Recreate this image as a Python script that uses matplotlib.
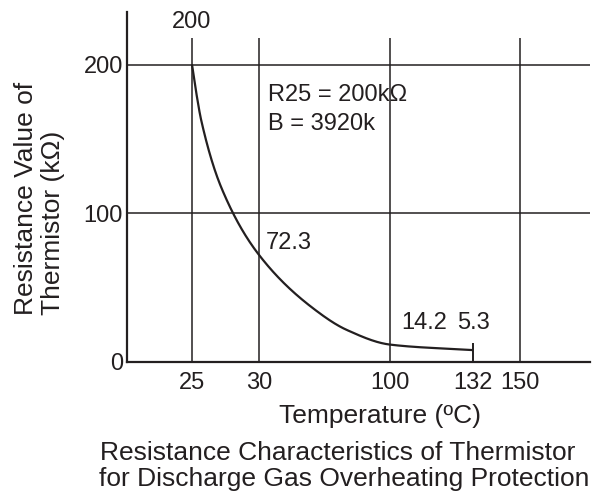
import numpy as np
import matplotlib
matplotlib.use("Agg")
import matplotlib.pyplot as plt

plt.rcParams['font.family'] = ['Liberation Sans', 'DejaVu Sans']

# ---- data ----
tick_temps = [25, 30, 100, 132, 150]
tick_labels = ['25', '30', '100', '132', '150']
y_ticks = [0, 100, 200]
curve_temp = [25, 25.3, 25.7, 27.2, 30, 59, 77, 100, 132]
curve_res = [200, 182, 162, 117, 72, 36, 21.5, 11.7, 8.0]
labels_text = ['200', '72.3', '14.2', '5.3']
r25_text = ['R25 = 200k\u03a9', 'B = 3920k']
xlabel = 'Temperature (\u00baC)'
ylabel = ['Resistance Value of', 'Thermistor (k\u03a9)']
title = ['Resistance Characteristics of Thermistor', 'for Discharge Gas Overheating Protection']

# non-linear axis knots (temperature -> axis position)
knot_T = [20, 25, 30, 100, 132, 150, 180]
knot_u = [125, 192, 259, 390, 473, 520, 598]


def fwd(t):
    return np.interp(t, knot_T, knot_u)


def inv(u):
    return np.interp(u, knot_u, knot_T)


def pchip(x, y, xn):
    x = np.asarray(x, float); y = np.asarray(y, float)
    h = np.diff(x); d = np.diff(y) / h
    m = np.zeros_like(y)
    for k in range(1, len(x) - 1):
        if d[k - 1] * d[k] > 0:
            w1 = 2 * h[k] + h[k - 1]; w2 = h[k] + 2 * h[k - 1]
            m[k] = (w1 + w2) / (w1 / d[k - 1] + w2 / d[k])
    m[0] = d[0]; m[-1] = d[-1]
    idx = np.clip(np.searchsorted(x, xn) - 1, 0, len(h) - 1)
    t = (xn - x[idx]) / h[idx]
    h00 = 2 * t**3 - 3 * t**2 + 1; h10 = t**3 - 2 * t**2 + t
    h01 = -2 * t**3 + 3 * t**2; h11 = t**3 - t**2
    return h00 * y[idx] + h10 * h[idx] * m[idx] + h01 * y[idx + 1] + h11 * h[idx] * m[idx + 1]


W, H = 603, 492
fig = plt.figure(figsize=(W / 100, H / 100), dpi=100)
ax_l, ax_r, ax_b, ax_t = 127, 590, 362, 12
ax = fig.add_axes([ax_l / W, 1 - ax_b / H, (ax_r - ax_l) / W, (ax_b - ax_t) / H])
ax.set_xscale('function', functions=(fwd, inv))
ax.set_xlim(inv(ax_l), inv(ax_r))
ymax = 200 * (ax_b - ax_t) / (ax_b - 64.5)
ax.set_ylim(0, ymax)

lc = '#231f20'
for s in ['top', 'right']:
    ax.spines[s].set_visible(False)
for s in ['left', 'bottom']:
    ax.spines[s].set_linewidth(1.6)
    ax.spines[s].set_color(lc)

vtop = 200 * (ax_b - 38) / (ax_b - 64.5)
for t in [25, 30, 100, 150]:
    ax.vlines(t, 0, vtop, color=lc, lw=1.1)
for v in [100, 200]:
    ax.axhline(v, color=lc, lw=1.1)

# curve, smoothed in axis-position space
u_pts = fwd(np.array(curve_temp))
u_fine = np.linspace(u_pts[0], u_pts[-1], 600)
r_fine = pchip(u_pts, curve_res, u_fine)
ax.plot(inv(u_fine), r_fine, color=lc, lw=1.6, solid_capstyle='butt')
ax.vlines(curve_temp[-1], 0, 12.8, color=lc, lw=1.4)

fs = 17
ax.set_xticks(tick_temps)
ax.set_xticklabels(tick_labels)
ax.set_yticks(y_ticks)
ax.tick_params(axis='both', length=0, labelsize=fs, colors=lc)
ax.tick_params(axis='x', pad=7)
ax.tick_params(axis='y', pad=3)


def ypx(p):
    return (ax_b - p) / (ax_b - 64.5) * 200


ax.text(25, ypx(22), labels_text[0], ha='center', va='center', fontsize=fs, color=lc)
ax.text(inv(268), ypx(101), r25_text[0], ha='left', va='baseline', fontsize=fs, color=lc)
ax.text(inv(268), ypx(130), r25_text[1], ha='left', va='baseline', fontsize=fs, color=lc)
ax.text(inv(266), ypx(243), labels_text[1], ha='left', va='center', fontsize=fs, color=lc)
ax.text(inv(401), ypx(323), labels_text[2], ha='left', va='center', fontsize=fs, color=lc)
ax.text(inv(457), ypx(323), labels_text[3], ha='left', va='center', fontsize=fs, color=lc)

fs2 = 19
fig.text(380 / W, 1 - 423 / H, xlabel, ha='center', va='baseline', fontsize=fs2, color=lc)
fig.text(338 / W, 1 - 460 / H, title[0], ha='center', va='baseline', fontsize=fs2, color=lc)
fig.text(344 / W, 1 - 486 / H, title[1], ha='center', va='baseline', fontsize=fs2, color=lc)
fig.text(33 / W, 1 - 315 / H, ylabel[0], ha='left', va='baseline', rotation=90,
         rotation_mode='anchor', fontsize=fs2, color=lc)
fig.text(60 / W, 1 - 315 / H, ylabel[1], ha='left', va='baseline', rotation=90,
         rotation_mode='anchor', fontsize=fs2, color=lc)

fig.savefig('out.png', dpi=100)
